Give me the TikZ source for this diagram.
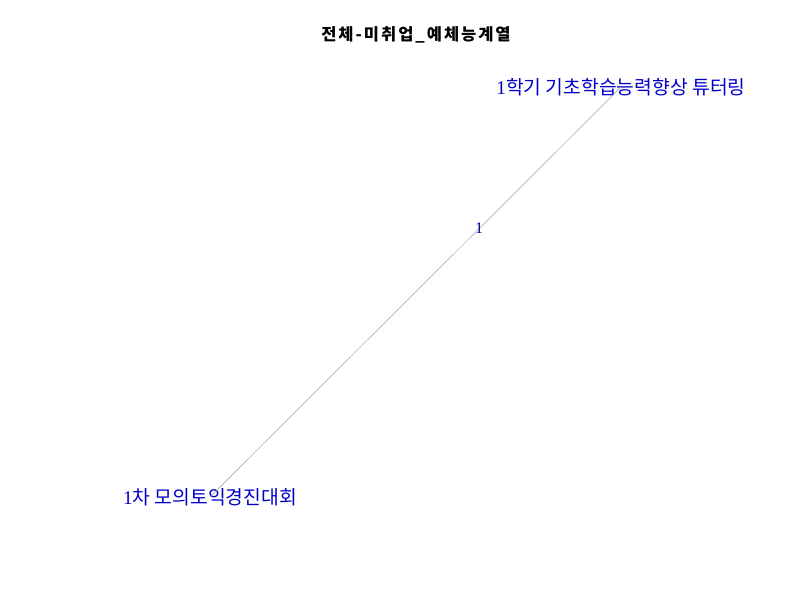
\documentclass[tikz,border=0pt]{standalone}
\usepackage{fontspec}
\setmainfont{Liberation Serif}
\newfontfamily\krfont{Noto Sans CJK KR}
\newfontfamily\krtitle[LetterSpace=12]{Noto Sans CJK KR}
\usepackage{tikz}
\definecolor{labelblue}{RGB}{0,0,205}
\definecolor{edgegray}{RGB}{160,160,160}
\tikzset{
  title/.style={font=\krtitle\bfseries\fontsize{16.5}{19}\selectfont},
  vlabel/.style={text=labelblue, inner sep=0pt, font=\fontsize{19.3}{22}\selectfont},
  edge/.style={color=edgegray, line width=0.5pt},
  elabel/.style={text=labelblue!70!black, inner sep=0pt, font=\fontsize{16}{18}\selectfont}
}

\begin{document}
\begin{tikzpicture}[x=1pt,y=-1pt]
%%%%% Frame %%%%%
\useasboundingbox (0,0) rectangle (800,600);
%%%%% Title %%%%%
\node[title] (ttl) at (416,35) {전체-미취업\_예체능계열};
%%%%% Vertices %%%%%
\node[vlabel] (tutor) at (621,87) {1{\krfont 학기 기초학습능력향상 튜터링}};
\node[vlabel] (toeic) at (210,497) {1{\krfont 차 모의토익경진대회}};
%%%%% Edge %%%%%
\draw[edge] (toeic.center) -- node[pos=0.655, elabel] {1} (tutor.center);
\end{tikzpicture}
\end{document}
